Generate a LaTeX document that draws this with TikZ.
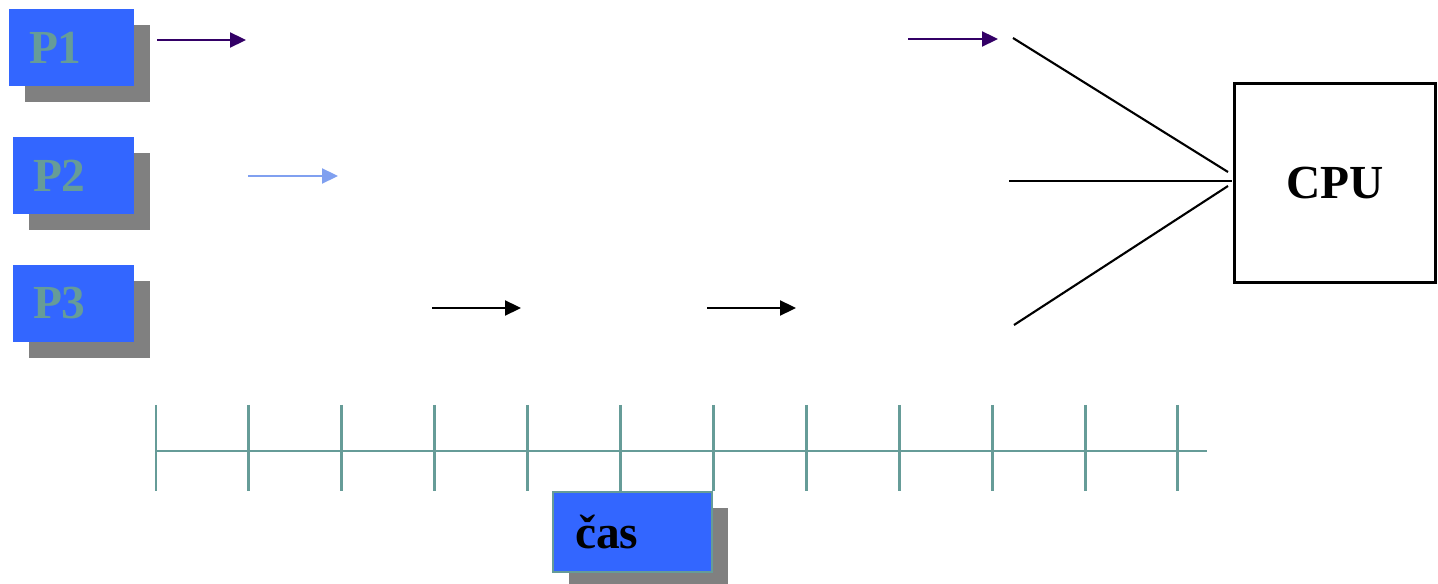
\documentclass[tikz,border=0pt]{standalone}
\usepackage{fontspec}
\setmainfont{Liberation Serif}
\usetikzlibrary{arrows.meta,shadows}
\definecolor{procblue}{RGB}{51,102,255}
\definecolor{tealgray}{RGB}{102,156,152}
\definecolor{darkpurple}{RGB}{51,0,102}
\definecolor{lightarrow}{RGB}{128,160,240}
\tikzset{
  bigfont/.style={font=\fontsize{27}{30}\selectfont\bfseries},
  procbox/.style={bigfont, fill=procblue, draw=none, text=tealgray,
    minimum height=1.54cm, inner xsep=0.4cm, inner ysep=0pt, align=left,
    general shadow={fill=gray, shadow xshift=0.32cm, shadow yshift=-0.32cm}},
  timebox/.style={bigfont, fill=procblue, draw=tealgray, line width=1.6pt,
    minimum height=1.6cm, text width=2.3cm, inner xsep=0.44cm, inner ysep=0pt,
    align=left, text=black,
    general shadow={fill=gray, draw=none, shadow xshift=0.32cm, shadow yshift=-0.32cm}},
  runarrow/.style={-{Triangle[length=0.32cm,width=0.3cm]}, line width=1.3pt},
  cpuline/.style={line width=1.2pt},
  tick/.style={tealgray, line width=1.7pt}
}
\begin{document}
\begin{tikzpicture}[x=0.02cm,y=-0.02cm]
\useasboundingbox (0,0) rectangle (1438,584);
% processes
\node[procbox, text width=1.7cm] (p1) at (71.5,47.5) {P1};
\node[procbox, text width=1.62cm] (p2) at (73.5,175.5) {P2};
\node[procbox, text width=1.62cm] (p3) at (73.5,303.5) {P3};
\node[draw, line width=1.2pt, minimum width=4.02cm, minimum height=3.98cm, bigfont] (cpu) at (1335,183) {CPU};
% arrow ends
\coordinate (p1s) at (157,40);
\coordinate (p1e) at (246,40);
\coordinate (p1t) at (908,39);
\coordinate (p1u) at (998,39);
\coordinate (p2s) at (248,176);
\coordinate (p2e) at (338,176);
\coordinate (p3s) at (432,308);
\coordinate (p3e) at (521,308);
\coordinate (p3t) at (707,308);
\coordinate (p3u) at (796,308);
\draw[runarrow, darkpurple] (p1s) -- (p1e);
\draw[runarrow, darkpurple] (p1t) -- (p1u);
\draw[runarrow, lightarrow] (p2s) -- (p2e);
\draw[runarrow, black] (p3s) -- (p3e);
\draw[runarrow, black] (p3t) -- (p3u);
% lines to CPU
\coordinate (in1) at (1013,38);
\coordinate (in2) at (1009,181);
\coordinate (in3) at (1014,325);
\coordinate (c1) at (1228,172);
\coordinate (c2) at (1232,181);
\coordinate (c3) at (1228,186);
\draw[cpuline] (in1) -- (c1);
\draw[cpuline] (in2) -- (c2);
\draw[cpuline] (in3) -- (c3);
% time axis
\coordinate (t0) at (155,451);
\coordinate (t1) at (1207,451);
\draw[tick] (t0) -- (t1);
\foreach \i in {0,...,11}
  \draw[tick] (156+92.9*\i,405) -- (156+92.9*\i,491);
\node[timebox] (cas) at (632.5,532) {čas};
\end{tikzpicture}
\end{document}
